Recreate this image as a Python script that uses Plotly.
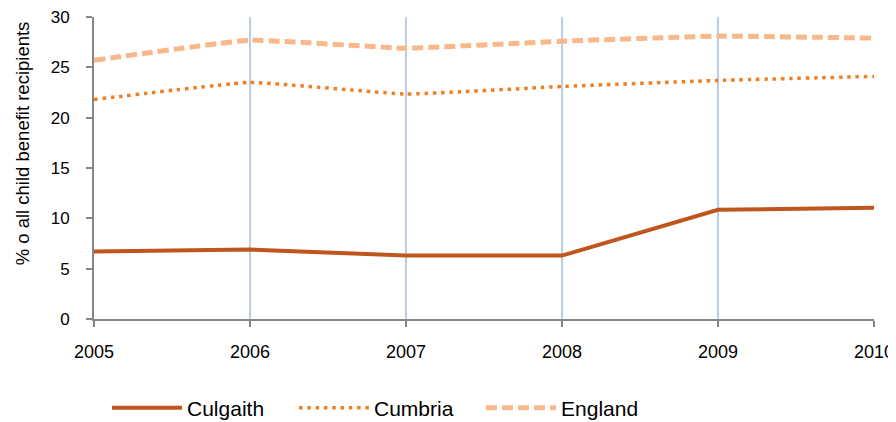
import plotly.graph_objects as go

years = [2005, 2006, 2007, 2008, 2009, 2010]
culgaith = [6.7, 6.9, 6.3, 6.3, 10.85, 11.05]
cumbria = [21.8, 23.5, 22.35, 23.1, 23.7, 24.1]
england = [25.7, 27.7, 26.9, 27.6, 28.1, 27.9]
y_title = "% o all child benefit recipients"

fig = go.Figure()
fig.add_trace(go.Scatter(x=years, y=culgaith, name="Culgaith", mode="lines",
                         line=dict(color="#C0561E", width=4)))
fig.add_trace(go.Scatter(x=years, y=cumbria, name="Cumbria", mode="lines",
                         line=dict(color="#F07F22", width=3.5, dash="3.5px,4.8px", shape="spline", smoothing=0.3)))
fig.add_trace(go.Scatter(x=years, y=england, name="England", mode="lines",
                         line=dict(color="#F9B88B", width=5, dash="11px,5px", shape="spline", smoothing=0.3)))

font = "Liberation Sans, Arial, sans-serif"
fig.update_layout(
    width=888, height=432,
    margin=dict(l=86, r=22, t=9, b=121),
    paper_bgcolor="white", plot_bgcolor="white",
    font=dict(family=font, color="#000000"),
    showlegend=True,
    legend=dict(orientation="h", x=0.0167, xanchor="left", y=-0.2947, yanchor="middle",
                entrywidth=102, entrywidthmode="pixels", itemwidth=70,
                font=dict(size=21, family=font)),
    xaxis=dict(range=[2005, 2010], tickvals=years, ticktext=[str(y) for y in years],
               automargin=False, ticklabeloverflow="allow",
               showgrid=True, gridcolor="#B9CDE5", gridwidth=2,
               showline=True, linecolor="#868686", linewidth=2,
               ticks="outside", ticklen=6, tickcolor="#868686", tickwidth=1.5,
               ticklabelstandoff=9,
               tickfont=dict(size=18, family=font), zeroline=False),
    yaxis=dict(range=[0, 30], tickvals=[0, 5, 10, 15, 20, 25, 30],
               automargin=False, ticklabeloverflow="allow",
               showgrid=False, showline=True, linecolor="#868686", linewidth=2,
               ticks="outside", ticklen=6, tickcolor="#868686", tickwidth=1.5,
               ticklabelstandoff=13,
               tickfont=dict(size=17, family=font), zeroline=False),
    annotations=[dict(text=y_title, textangle=-90, xref="paper", yref="paper",
                      x=-0.0905, y=0.583, xanchor="center", yanchor="middle",
                      showarrow=False, font=dict(size=18.5, family=font, color="#000000"))],
)

fig.write_html("out.html")
